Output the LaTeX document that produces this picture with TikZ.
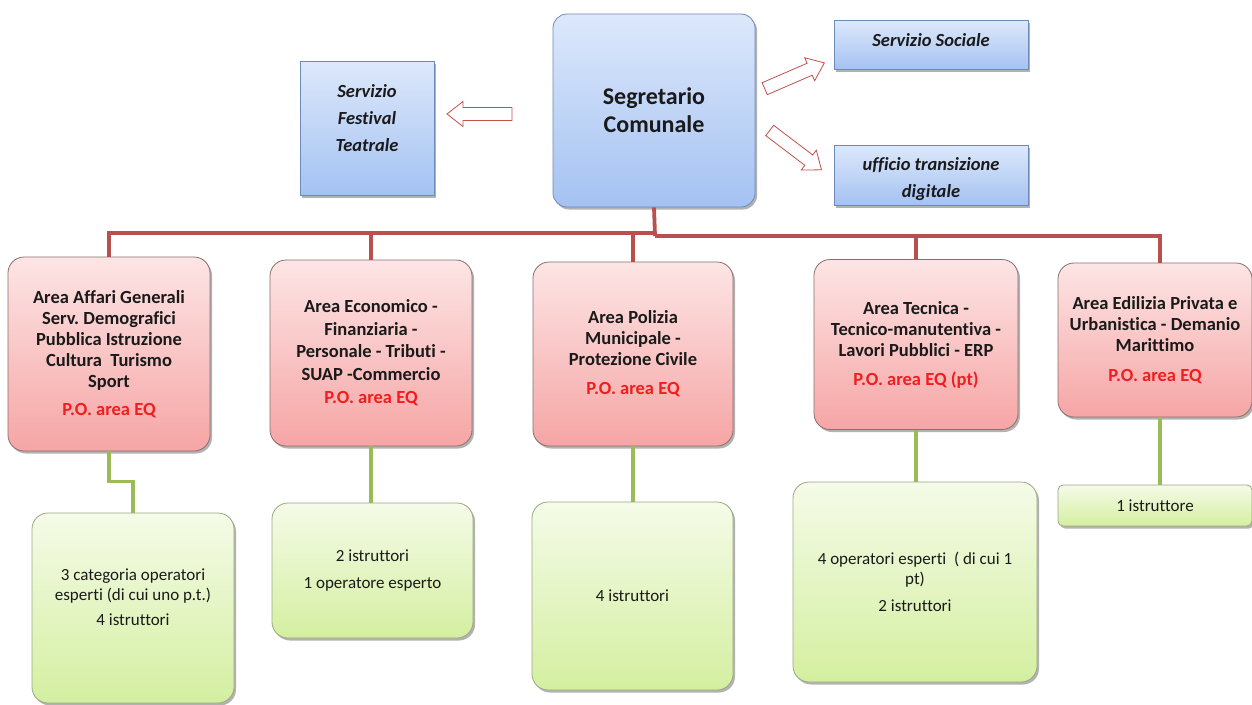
\documentclass[tikz,border=0pt]{standalone}
\usepackage{fontspec}
\setmainfont{Carlito}[Ligatures=NoCommon]
\frenchspacing
\usetikzlibrary{shadows}
\definecolor{bluetop}{HTML}{DDE8FB}
\definecolor{bluebot}{HTML}{A4C2F2}
\definecolor{blueedge}{HTML}{6E8BB8}
\definecolor{redtop}{HTML}{FDE5E5}
\definecolor{redbot}{HTML}{F6A5A5}
\definecolor{rededge}{HTML}{8C6E6E}
\definecolor{greentop}{HTML}{F5FBE8}
\definecolor{greenbot}{HTML}{D4EFA0}
\definecolor{greenedge}{HTML}{9AA884}
\definecolor{busred}{HTML}{B9504E}
\definecolor{busgreen}{HTML}{9BBB59}
\definecolor{arrowred}{HTML}{C0504D}
\definecolor{potext}{HTML}{F01E1E}
\definecolor{darktext}{HTML}{1A1A1A}
\begin{document}
\begin{tikzpicture}[x=1pt,y=-1pt,
  boxbase/.style={draw, line width=0.8pt, inner sep=0pt, align=center, text=darktext,
    drop shadow={shadow xshift=2pt, shadow yshift=-2.5pt, opacity=0.3, fill=black}},
  bluebox/.style={boxbase, draw=blueedge, top color=bluetop, bottom color=bluebot},
  redbox/.style={boxbase, draw=rededge, top color=redtop, bottom color=redbot,
    rounded corners=16pt, font=\fontsize{18.5}{21}\selectfont\bfseries},
  greenbox/.style={boxbase, draw=greenedge, top color=greentop, bottom color=greenbot,
    rounded corners=16pt, font=\fontsize{17}{20}\selectfont},
  bluetext/.style={align=center, text=darktext, font=\fontsize{18.5}{27}\selectfont\bfseries\itshape},
  greentext/.style={align=center, text=darktext, font=\fontsize{17}{20}\selectfont},
  redbus/.style={draw=busred, line width=3.8pt},
  greenbus/.style={draw=busgreen, line width=3.5pt},
  arrowline/.style={draw=arrowred, line width=0.8pt, fill=white, line join=miter},
  hollowarrow/.pic={\path[arrowline] (0,-6.5) -- (49,-6.5) -- (49,-12.5) -- (65,0) -- (49,12.5) -- (49,6.5) -- (0,6.5) -- cycle;}
]
\useasboundingbox (0,0) rectangle (1252,704);
\fill[white] (0,0) rectangle (1252,704);

% top level
\node[bluebox, rounded corners=14pt, minimum width=202, minimum height=193,
  font=\fontsize{24}{28}\selectfont\bfseries] (seg) at (654,110.5) {Segretario\\Comunale};
\node[bluebox, minimum width=134, minimum height=134,
  label={[bluetext, yshift=10pt]center:{Servizio\\Festival\\Teatrale}}] (fest) at (367,128) {};
\node[bluebox, minimum width=194, minimum height=49,
  label={[bluetext, yshift=5pt]center:{Servizio Sociale}}] (soc) at (931,45) {};
\node[bluebox, minimum width=194, minimum height=60,
  label={[bluetext, font=\fontsize{18.5}{26.5}\selectfont\bfseries\itshape, yshift=-4pt]center:{ufficio transizione\\digitale}}] (uff) at (931,175) {};

% hollow arrows
\pic[rotate=180] at (512,114) {hollowarrow};
\pic[rotate=23.4] at (764.7,88.7) {hollowarrow};
\pic[rotate=-37.2] at (769.7,130.5) {hollowarrow};

% areas
\node[redbox, minimum width=202, minimum height=194] (a1) at (109,354)
  {Area Affari Generali\\Serv. Demografici\\Pubblica Istruzione\\Cultura\ \ Turismo\\Sport\\[7pt]\textcolor{potext}{P.O. area EQ}};
\node[redbox, minimum width=202, minimum height=186, font=\fontsize{18.5}{22.5}\selectfont\bfseries] (a2) at (371,353)
  {Area Economico -\\Finanziaria -\\Personale - Tributi -\\SUAP -Commercio\\[1pt]\textcolor{potext}{P.O. area EQ}};
\node[redbox, minimum width=200, minimum height=184] (a3) at (633,354)
  {Area Polizia\\Municipale -\\Protezione Civile\\[8pt]\textcolor{potext}{P.O. area EQ}};
\node[redbox, minimum width=204, minimum height=170] (a4) at (916,344.5)
  {Area Tecnica -\\Tecnico-manutentiva -\\Lavori Pubblici - ERP\\[8pt]\textcolor{potext}{P.O. area EQ (pt)}};
\node[redbox, minimum width=194, minimum height=154] (a5) at (1155,340)
  {Area Edilizia Privata e\\Urbanistica - Demanio\\Marittimo\\[9pt]\textcolor{potext}{P.O. area EQ}};

% staff
\node[greenbox, minimum width=202, minimum height=190,
  label={[greentext, yshift=11pt]center:{3 categoria operatori\\esperti (di cui uno p.t.)\\[5pt]4 istruttori}}] (g1) at (133,608) {};
\node[greenbox, minimum width=201, minimum height=135] (g2) at (372.5,570.5)
  {2 istruttori\\[7pt]1 operatore esperto};
\node[greenbox, minimum width=201, minimum height=188] (g3) at (632.5,596) {4 istruttori};
\node[greenbox, minimum width=244, minimum height=200] (g4) at (915,582)
  {4 operatori esperti\ \ ( di cui 1\\pt)\\[7pt]2 istruttori};
\node[greenbox, rounded corners=5pt, minimum width=194, minimum height=41] (g5) at (1155,505.5) {1 istruttore};

% red bus
\coordinate (busL) at (655,233);
\coordinate (busR) at (655,236);
\draw[redbus] (seg.south) -- (busR);
\draw[redbus] (a1.north) |- (busL);
\draw[redbus] (a2.north) |- (busL);
\draw[redbus] (a3.north) |- (busL);
\draw[redbus] (a4.north) |- (busR);
\draw[redbus] ([xshift=5pt]a5.north) |- (busR);

% green links
\draw[greenbus] (a1.south) -- ++(0,30) -| (g1.north);
\draw[greenbus] (a2.south) -- (a2.south |- g2.north);
\draw[greenbus] (a3.south) -- (a3.south |- g3.north);
\draw[greenbus] (a4.south) -- (a4.south |- g4.north);
\draw[greenbus] ([xshift=5pt]a5.south) -- ([xshift=5pt]g5.north);
\end{tikzpicture}
\end{document}
